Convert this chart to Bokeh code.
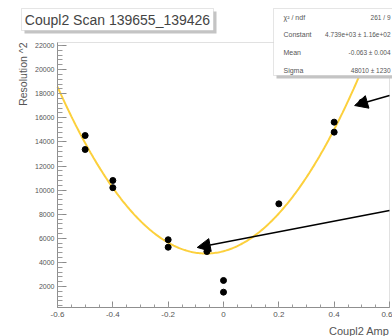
import numpy as np
from bokeh.plotting import figure
from bokeh.models import (Range1d, SingleIntervalTicker, FixedTicker, Label,
                          Arrow, NormalHead, BoxAnnotation)
from bokeh.embed import file_html
from bokeh.resources import INLINE

# ---- data ----
amp = [-0.5, -0.5, -0.4, -0.4, -0.2, -0.2, -0.06, 0.0, 0.0, 0.2, 0.4, 0.4, 0.5]
res2 = [14530, 13370, 10800, 10200, 5880, 5260, 4900, 2500, 1530, 8860, 15640, 14810, 17300]

fit_const = 4739.0
fit_mean = -0.0631
fit_curv = 48010.0

x_ticks = [-0.6, -0.4, -0.2, 0.0, 0.2, 0.4, 0.6]
x_tick_labels = ["-0.6", "-0.4", "-0.2", "0", "0.2", "0.4", "0.6"]

arrow_x_start = [0.6, 0.6]
arrow_y_start = [17850, 8300]
arrow_x_end = [0.474, -0.095]
arrow_y_end = [17020, 5240]

title_text = "Coupl2 Scan 139655_139426"
x_title = "Coupl2 Amp"
y_title = "Resolution ^2"
stat_names = ["\u03c7\u00b2 / ndf", "Constant", "Mean", "Sigma"]
stat_values = ["261 / 9", "4.739e+03 \u00b1 1.16e+02", "-0.063 \u00b1 0.004", "48010 \u00b1 1230"]

# axis (frame) extents of the histogram pad
X_LO, X_HI = -0.6, 0.6
Y_LO, Y_HI = 257.0, 22250.0

FONT = "Liberation Sans"
W, H = 392, 336
ML, MR, MT, MB = 57, 3, 42, 29   # pad margins in pixels

xs = (X_HI - X_LO) / (W - ML - MR)
ys = (Y_HI - Y_LO) / (H - MT - MB)
x_range = Range1d(X_LO - ML * xs, X_HI + MR * xs)
y_range = Range1d(Y_LO - MB * ys, Y_HI + MT * ys)

p = figure(width=W, height=H, output_backend="svg", toolbar_location=None,
           x_range=x_range, y_range=y_range, title=None,
           min_border_left=0, min_border_right=0, min_border_top=0, min_border_bottom=0)
p.background_fill_color = "white"
p.border_fill_color = "white"
p.grid.visible = False
p.outline_line_color = None

# axes drawn at the pad edges
p.xaxis.fixed_location = Y_LO
p.yaxis.fixed_location = X_LO
p.xaxis.bounds = (X_LO, X_HI)
p.yaxis.bounds = (Y_LO, Y_HI)
p.xaxis.ticker = FixedTicker(ticks=x_ticks,
                             minor_ticks=list(np.round(np.arange(-0.6, 0.6001, 0.05), 2)))
p.xaxis.major_label_overrides = dict(zip(x_ticks, x_tick_labels))
p.yaxis.ticker = SingleIntervalTicker(interval=2000, num_minor_ticks=5)
for ax in (p.xaxis, p.yaxis):
    ax.axis_line_color = "#8a8a8a"
    ax.major_tick_line_color = "#8a8a8a"
    ax.minor_tick_line_color = "#9a9a9a"
    ax.major_tick_out = 0
    ax.minor_tick_out = 0
    ax.major_label_text_font = FONT
    ax.major_label_text_color = "#555555"
p.xaxis.major_tick_in = 6
p.xaxis.minor_tick_in = 3
p.yaxis.major_tick_in = 9
p.yaxis.minor_tick_in = 5
p.xaxis.major_label_text_font_size = "8px"
p.yaxis.major_label_text_font_size = "7px"
p.xaxis.major_label_standoff = 4
p.yaxis.major_label_standoff = 3

# frame box
p.add_layout(BoxAnnotation(left=X_LO, right=X_HI, bottom=Y_LO, top=Y_HI,
                           fill_alpha=0, line_color="#9a9a9a", line_width=1))

# fit curve (only inside the pad)
xf = np.linspace(X_LO, X_HI, 241)
yf = fit_const + fit_curv * (xf - fit_mean) ** 2
yf = np.where(yf <= Y_HI, yf, np.nan)
p.line(xf, yf, line_color="#fcd03c", line_width=2)

# data points
p.scatter(amp, res2, marker="circle", size=6, color="black")

# arrows
for xs0, ys0, xe, ye in zip(arrow_x_start, arrow_y_start, arrow_x_end, arrow_y_end):
    p.add_layout(Arrow(x_start=xs0, y_start=ys0, x_end=xe, y_end=ye,
                       line_color="black", line_width=1.5,
                       end=NormalHead(size=13, fill_color="black", line_color="black")))


def sbox(l, r, t, b, **kw):
    # screen-unit box given in canvas pixels (top-left origin)
    return BoxAnnotation(left=l, right=r, top=H - t, bottom=H - b,
                         left_units="screen", right_units="screen",
                         top_units="screen", bottom_units="screen", **kw)


def slabel(x, y, text, **kw):
    return Label(x=x, y=H - y, x_units="screen", y_units="screen", text=text,
                 text_font=FONT, **kw)


# title box
p.add_layout(sbox(24, 216, 11, 33, fill_color="#c4c4c4", fill_alpha=1, line_alpha=0))
p.add_layout(sbox(21, 213, 8, 30, fill_color="white", fill_alpha=1,
                  line_color="#aaaaaa", line_width=1))
p.add_layout(slabel(117, 19, title_text, text_font_size="14px", text_color="#444444",
                    text_align="center", text_baseline="middle"))

# stats box
p.add_layout(sbox(276, 420, 11, 78, fill_color="#c4c4c4", fill_alpha=1, line_alpha=0))
p.add_layout(sbox(273, 420, 8, 75, fill_color="white", fill_alpha=1,
                  line_color="#aaaaaa", line_width=1))
row_y = [17, 34, 52, 70]
for name, val, ry in zip(stat_names, stat_values, row_y):
    p.add_layout(slabel(283, ry, name, text_font_size="7px", text_color="#555555",
                        text_baseline="middle"))
    p.add_layout(slabel(390, ry, val, text_font_size="6.5px", text_color="#555555",
                        text_align="right", text_baseline="middle"))

# axis titles (right-aligned at the axis ends)
p.add_layout(slabel(22, 42, y_title, angle=np.pi / 2, text_font_size="10.5px",
                    text_color="#555555", text_align="right", text_baseline="middle"))
p.add_layout(slabel(389, 330, x_title, text_font_size="11px", text_color="#555555",
                    text_align="right", text_baseline="middle"))

open("out.html", "w").write(file_html(p, INLINE))
